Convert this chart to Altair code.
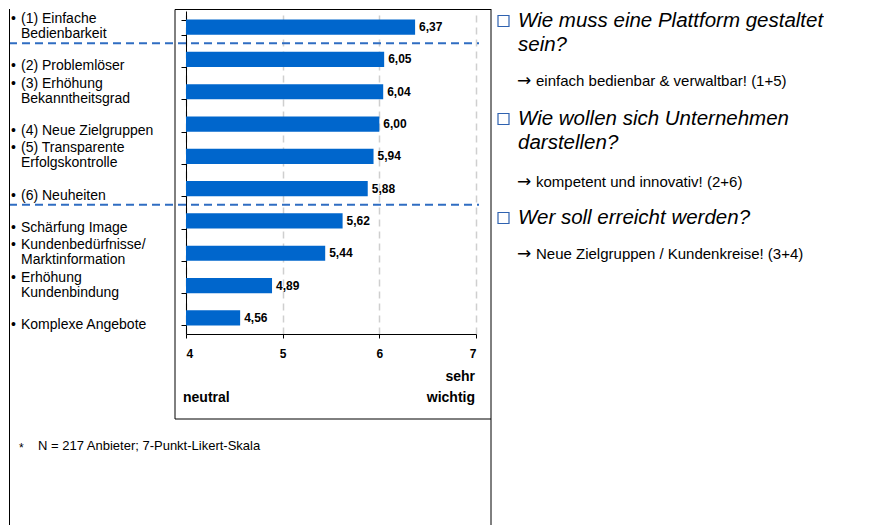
import altair as alt
import pandas as pd

# ---- data ----
labels = [
    "(1) Einfache\nBedienbarkeit",
    "(2) Problemlöser",
    "(3) Erhöhung\nBekanntheitsgrad",
    "(4) Neue Zielgruppen",
    "(5) Transparente\nErfolgskontrolle",
    "(6) Neuheiten",
    "Schärfung Image",
    "Kundenbedürfnisse/\nMarktinformation",
    "Erhöhung\nKundenbindung",
    "Komplexe Angebote",
]
values = [6.37, 6.05, 6.04, 6.00, 5.94, 5.88, 5.62, 5.44, 4.89, 4.56]
x_ticks = [4, 5, 6, 7]
scale_min = 4
group_boundaries = [1, 6]  # number of items above each dashed separator

questions = [
    ["Wie muss eine Plattform gestaltet", "sein?"],
    ["Wie wollen sich Unternehmen", "darstellen?"],
    ["Wer soll erreicht werden?"],
]
answers = [
    "einfach bedienbar & verwaltbar! (1+5)",
    "kompetent und innovativ! (2+6)",
    "Neue Zielgruppen / Kundenkreise! (3+4)",
]
footnote = "N = 217 Anbieter; 7-Punkt-Likert-Skala"

FONT = "Liberation Sans"
BLUE = "#0066CC"

df = pd.DataFrame({
    "cat": [s.replace("\n", " ") for s in labels],
    "lab": [s.replace("\n", "|") for s in labels],
    "lines": [s.count("\n") + 1 for s in labels],
    "value": values,
    "base": [scale_min] * len(values),
    "txt": [f"{v:.2f}".replace(".", ",") for v in values],
})
sep_df = pd.DataFrame({"pos": group_boundaries})

W, H = 290, 323
Y = alt.Y(
    "cat:N", sort=None, title=None,
    scale=alt.Scale(paddingInner=0.53, paddingOuter=0.265),
    axis=alt.Axis(labels=False, tickSize=5, tickBand="extent",
                  domainColor="black", tickColor="black", grid=False),
)
X = alt.X(
    "value:Q", title=None,
    scale=alt.Scale(domain=[4, 7], nice=False, zero=False),
    axis=alt.Axis(
        values=x_ticks, format="d", labelFont=FONT, labelFontSize=12,
        labelFontWeight="bold", labelColor="black", labelPadding=10,
        tickSize=4, tickColor="black", domainColor="black",
        grid=True, gridColor="#cfcfcf", gridDash=[7, 5], gridWidth=1.5,
    ),
)

base = alt.Chart(df)
bars = base.mark_bar(color=BLUE).encode(y=Y, x=X, x2="base:Q")
vals = base.mark_text(
    align="left", baseline="middle", dx=4, font=FONT, fontSize=12,
    fontWeight="bold", color="black"
).encode(y=alt.Y("cat:N", sort=None), x="value:Q", text="txt:N")


def cat_text(n, dy):
    common = dict(baseline="middle", font=FONT, fontSize=14, color="black", lineHeight=15, dy=dy)
    lay = base.transform_filter(f"datum.lines == {n}")
    t = lay.mark_text(align="left", lineBreak="|", **common).encode(
        y=alt.Y("cat:N", sort=None), x=alt.value(-165), text="lab:N")
    b = lay.mark_text(align="left", **common).encode(
        y=alt.Y("cat:N", sort=None), x=alt.value(-175), text=alt.value("\u2022"))
    return [t, b]


cat_labels = cat_text(1, 7) + cat_text(2, -8)

seps = alt.Chart(sep_df).mark_rule(
    color="#2F6DC2", strokeWidth=2, strokeDash=[8, 5]
).encode(
    y=alt.Y("pos:Q", scale=alt.Scale(domain=[0, len(values)], reverse=True, nice=False, zero=False), axis=None),
    x=alt.value(-177), x2=alt.value(293),
)


def one(t):
    return alt.Chart(pd.DataFrame({"t": [t]}))


def text(t, x, y, size=14, align="left", weight="normal", style="normal", font=FONT):
    return one(t).mark_text(
        align=align, baseline="middle", font=font, fontSize=size,
        fontWeight=weight, fontStyle=style, color="black"
    ).encode(x=alt.value(x), y=alt.value(y), text="t:N")


def hline(x1, x2, y):
    return one("").mark_rule(color="black", strokeWidth=1).encode(
        x=alt.value(x1), x2=alt.value(x2), y=alt.value(y))


def vline(x, y1, y2):
    return one("").mark_rule(color="black", strokeWidth=1).encode(
        x=alt.value(x), y=alt.value(y1), y2=alt.value(y2))


frame = [
    vline(-176.5, -2, 514),
    vline(305, -2, 514),
    hline(-11, 305, -1.5),
    hline(-11, 305, 408),
    vline(-11, -1.5, 408),
]

annot = [
    text("neutral", -3, 387, size=14, weight="bold"),
    text("sehr", 289, 366, size=14, weight="bold", align="right"),
    text("wichtig", 289, 387, size=14, weight="bold", align="right"),
    text("*", -167, 437, size=12),
    text(footnote, -148, 435, size=13),
]

q_y = [[10, 34], [108, 132], [207]]
a_y = [70, 171, 243]
for lines, ys, ans, ay in zip(questions, q_y, answers, a_y):
    annot.append(
        one("").mark_rect(fillOpacity=0, stroke="#2F62B0", strokeWidth=1.2).encode(
            x=alt.value(312), x2=alt.value(323), y=alt.value(ys[0] - 5.5), y2=alt.value(ys[0] + 5.5))
    )
    for l, yy in zip(lines, ys):
        annot.append(text(l, 332, yy, size=20.5, style="italic"))
    annot.append(text("\u2192", 331, ay, size=17, font="DejaVu Sans"))
    annot.append(text(ans, 350, ay, size=15))

main = alt.layer(bars, vals, *cat_labels)

chart = alt.layer(main, seps, *frame, *annot).resolve_scale(y="independent").properties(
    width=W, height=H,
    padding=0,
    background="white",
).configure_view(stroke=None)

chart.save("out.html", embed_options={"renderer": "svg", "actions": False})
